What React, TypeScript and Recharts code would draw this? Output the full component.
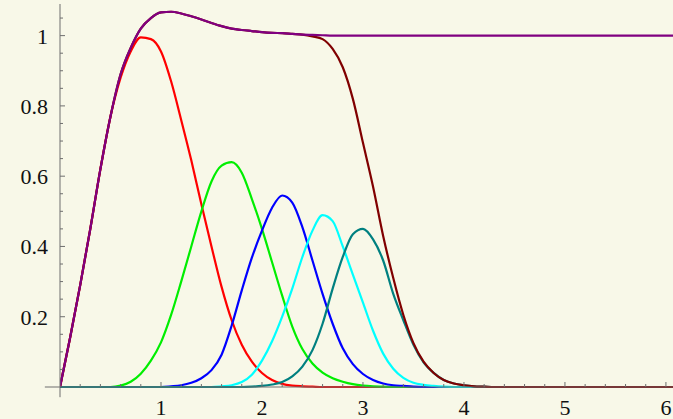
import React from 'react'
import { LineChart, Line, XAxis, YAxis, ReferenceLine } from 'recharts'

// sample positions shared by every curve
const xs = [
  0, 0.1, 0.2, 0.3, 0.4, 0.5, 0.6, 0.7, 0.8, 0.9,
  1.0, 1.1, 1.2, 1.3, 1.4, 1.5, 1.6, 1.7, 1.8, 1.9,
  2.0, 2.1, 2.2, 2.3, 2.4, 2.5, 2.6, 2.7, 2.8, 2.9,
  3.0, 3.1, 3.2, 3.3, 3.4, 3.5, 3.6, 3.7, 3.8, 3.9,
  4.0, 4.1, 4.2, 4.3, 4.4, 4.5, 5, 5.5, 6, 6.1,
]

const red = [
  0, 0.14, 0.29, 0.45, 0.62, 0.77, 0.88, 0.955, 0.995, 0.99,
  0.955, 0.87, 0.76, 0.645, 0.52, 0.4, 0.285, 0.19, 0.12, 0.072,
  0.04, 0.02, 0.009, 0.004, 0.002, 0.001, 0, 0, 0, 0,
  0, 0, 0, 0, 0, 0, 0, 0, 0, 0,
  0, 0, 0, 0, 0, 0, 0, 0, 0, 0,
]

const green = [
  0, 0, 0, 0, 0, 0, 0.004, 0.015, 0.038, 0.075,
  0.127, 0.205, 0.3, 0.4, 0.5, 0.585, 0.63, 0.64, 0.61, 0.535,
  0.45, 0.355, 0.26, 0.172, 0.108, 0.067, 0.041, 0.025, 0.015, 0.008,
  0.004, 0.002, 0.001, 0, 0, 0, 0, 0, 0, 0,
  0, 0, 0, 0, 0, 0, 0, 0, 0, 0,
]

const blue = [
  0, 0, 0, 0, 0, 0, 0, 0, 0, 0,
  0, 0.002, 0.005, 0.012, 0.025, 0.048, 0.092, 0.175, 0.275, 0.368,
  0.445, 0.51, 0.545, 0.525, 0.455, 0.36, 0.265, 0.18, 0.11, 0.065,
  0.037, 0.02, 0.01, 0.005, 0.003, 0.001, 0, 0, 0, 0,
  0, 0, 0, 0, 0, 0, 0, 0, 0, 0,
]

const cyan = [
  0, 0, 0, 0, 0, 0, 0, 0, 0, 0,
  0, 0, 0, 0, 0, 0, 0.002, 0.005, 0.014, 0.035,
  0.075, 0.13, 0.2, 0.28, 0.37, 0.445, 0.489, 0.472, 0.4, 0.32,
  0.24, 0.16, 0.095, 0.052, 0.026, 0.012, 0.006, 0.003, 0.001, 0,
  0, 0, 0, 0, 0, 0, 0, 0, 0, 0,
]

const teal = [
  0, 0, 0, 0, 0, 0, 0, 0, 0, 0,
  0, 0, 0, 0, 0, 0, 0, 0, 0, 0.001,
  0.003, 0.007, 0.014, 0.03, 0.058, 0.105, 0.18, 0.28, 0.37, 0.435,
  0.45, 0.42, 0.36, 0.265, 0.19, 0.12, 0.07, 0.04, 0.02, 0.01,
  0.005, 0.002, 0.001, 0, 0, 0, 0, 0, 0, 0,
]

const maroon = [
  0, 0.14, 0.29, 0.45, 0.62, 0.77, 0.89, 0.965, 1.02, 1.05,
  1.066, 1.068, 1.063, 1.055, 1.046, 1.036, 1.027, 1.02, 1.016, 1.013,
  1.01, 1.008, 1.007, 1.005, 1.003, 0.998, 0.99, 0.962, 0.91, 0.82,
  0.695, 0.57, 0.43, 0.31, 0.205, 0.125, 0.072, 0.04, 0.02, 0.01,
  0.005, 0.002, 0.001, 0, 0, 0, 0, 0, 0, 0,
]

const purple = [
  0, 0.14, 0.29, 0.45, 0.62, 0.77, 0.89, 0.965, 1.02, 1.05,
  1.066, 1.068, 1.063, 1.055, 1.046, 1.036, 1.027, 1.02, 1.016, 1.013,
  1.01, 1.008, 1.007, 1.005, 1.003, 1.002, 1.001, 1, 1, 1,
  1, 1, 1, 1, 1, 1, 1, 1, 1, 1,
  1, 1, 1, 1, 1, 1, 1, 1, 1, 1,
]

const xTicks = [
  0.2, 0.4, 0.6, 0.8, 1, 1.2, 1.4, 1.6, 1.8, 2,
  2.2, 2.4, 2.6, 2.8, 3, 3.2, 3.4, 3.6, 3.8, 4,
  4.2, 4.4, 4.6, 4.8, 5, 5.2, 5.4, 5.6, 5.8, 6,
]
const xLabels = [1, 2, 3, 4, 5, 6]

const yTicks = [
  0.05, 0.1, 0.15, 0.2, 0.25, 0.3, 0.35, 0.4, 0.45, 0.5,
  0.55, 0.6, 0.65, 0.7, 0.75, 0.8, 0.85, 0.9, 0.95, 1, 1.05,
]
const yLabels = [0.2, 0.4, 0.6, 0.8, 1]

const series = [
  { key: 'red', values: red, color: '#ff0000' },
  { key: 'green', values: green, color: '#00ee00' },
  { key: 'blue', values: blue, color: '#0000ff' },
  { key: 'cyan', values: cyan, color: '#00ffff' },
  { key: 'teal', values: teal, color: '#008080' },
  { key: 'maroon', values: maroon, color: '#800000' },
  { key: 'purple', values: purple, color: '#800080' },
]

const data = xs.map((x, i) => {
  const row: Record<string, number> = { x }
  series.forEach((s) => { row[s.key] = s.values[i] })
  return row
})

const AXIS = '#6e6e6e'
const labelStyle = { fontFamily: '"Liberation Serif", "DejaVu Serif", serif', fontSize: 22 }
const isLabel = (list: number[], v: number) => list.some((l) => Math.abs(l - v) < 1e-9)

function XTick({ x, y, payload }: any) {
  const major = isLabel(xLabels, payload.value)
  return (
    <g>
      <line x1={x} x2={x} y1={y} y2={y - (major ? 5 : 3)} stroke={AXIS} />
      {major && (
        <text x={x} y={y + 28} textAnchor="middle" style={labelStyle} fill="#111">
          {payload.value}
        </text>
      )}
    </g>
  )
}

function YTick({ x, y, payload }: any) {
  const major = isLabel(yLabels, payload.value)
  return (
    <g>
      <line x1={x} x2={x + (major ? 5 : 3)} y1={y} y2={y} stroke={AXIS} />
      {major && (
        <text x={x - 12} y={y + 8} textAnchor="end" style={labelStyle} fill="#111">
          {payload.value}
        </text>
      )}
    </g>
  )
}

export default function App() {
  return (
    <div style={{ position: 'absolute', left: 0, top: 0, width: 673, height: 419, background: '#f8f8e8' }}>
      <LineChart width={673} height={419} data={data} margin={{ top: 4, right: 0, bottom: 0, left: 0 }}>
        <XAxis
          dataKey="x"
          type="number"
          domain={[0, 6.07]}
          allowDataOverflow
          ticks={xTicks}
          interval={0}
          height={32}
          tickSize={0}
          tickMargin={0}
          tickLine={false}
          axisLine={{ stroke: AXIS }}
          tick={<XTick />}
        />
        <YAxis
          type="number"
          domain={[0, 1.09]}
          ticks={yTicks}
          interval={0}
          width={60}
          tickSize={0}
          tickMargin={0}
          tickLine={false}
          axisLine={{ stroke: AXIS }}
          tick={<YTick />}
        />
        <ReferenceLine segment={[{ x: -0.15, y: 0 }, { x: 0, y: 0 }]} stroke={AXIS} ifOverflow="visible" />
        <ReferenceLine segment={[{ x: 0, y: -0.029 }, { x: 0, y: 0 }]} stroke={AXIS} ifOverflow="visible" />
        {series.map((s) => (
          <Line
            key={s.key}
            dataKey={s.key}
            type="monotone"
            stroke={s.color}
            strokeWidth={2.2}
            dot={false}
            isAnimationActive={false}
          />
        ))}
      </LineChart>
    </div>
  )
}
